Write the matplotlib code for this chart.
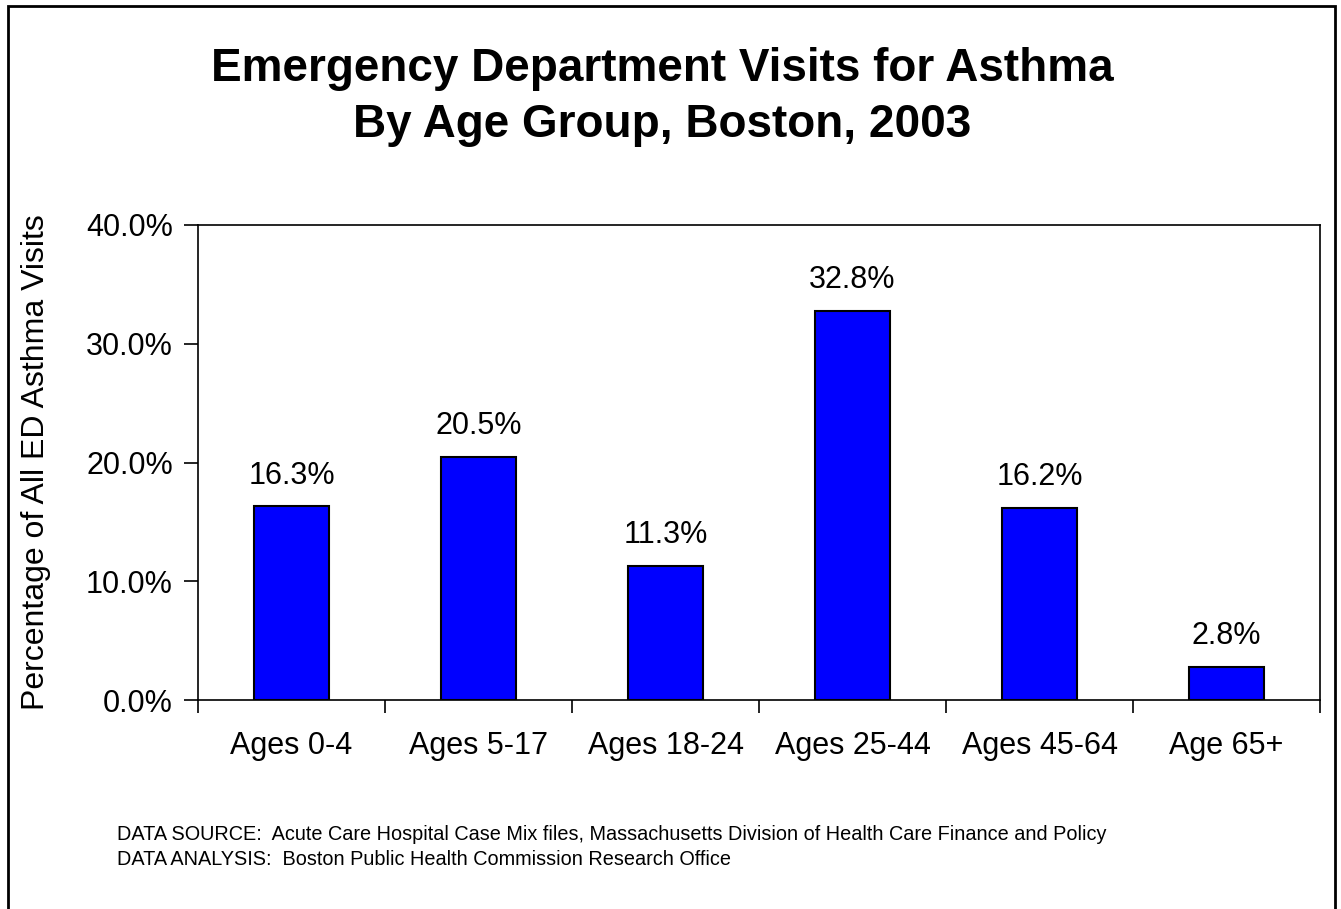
import matplotlib
matplotlib.use('Agg')
import matplotlib.pyplot as plt
from matplotlib.patches import Rectangle
from matplotlib.ticker import FuncFormatter

plt.rcParams['font.family'] = ['Liberation Sans', 'DejaVu Sans']

groups = ['Ages 0-4', 'Ages 5-17', 'Ages 18-24', 'Ages 25-44', 'Ages 45-64', 'Age 65+']
pct = [16.3, 20.5, 11.3, 32.8, 16.2, 2.8]
yticks = [0, 10, 20, 30, 40]

fig = plt.figure(figsize=(13.41, 9.09), dpi=100)
ax = fig.add_axes([198 / 1341, 1 - 700 / 909, 1122 / 1341, 475 / 909])

x = range(len(groups))
ax.bar(x, pct, width=0.4, color='#0000ff', edgecolor='black', linewidth=1.5)
for i, v in zip(x, pct):
    ax.text(i, v + 1.3, '%.1f%%' % v, ha='center', va='bottom', fontsize=22)

ax.set_xlim(-0.5, len(groups) - 0.5)
ax.set_ylim(0, 40)
ax.set_yticks(yticks)
ax.yaxis.set_major_formatter(FuncFormatter(lambda v, p: '%.1f%%' % v))
ax.set_xticks([i - 0.5 for i in range(len(groups) + 1)])
ax.set_xticklabels([])
ax.set_xticks(list(x), minor=True)
ax.set_xticklabels(groups, minor=True)
ax.tick_params(axis='x', which='minor', length=0, pad=22, labelsize=22)
ax.tick_params(axis='x', which='major', length=9, width=1.2)
ax.tick_params(axis='y', length=10, width=1.2, labelsize=22, pad=8)
for s in ax.spines.values():
    s.set_linewidth(1.2)
ax.set_ylabel('Percentage of All ED Asthma Visits', fontsize=23, labelpad=25)

fig.text(0.4937, 1 - 81 / 909, 'Emergency Department Visits for Asthma',
         ha='center', va='baseline', fontsize=33, fontweight='bold')
fig.text(0.4937, 1 - 137 / 909, 'By Age Group, Boston, 2003',
         ha='center', va='baseline', fontsize=33, fontweight='bold')
fig.text(117 / 1341, 1 - 840 / 909,
         'DATA SOURCE:  Acute Care Hospital Case Mix files, Massachusetts Division of Health Care Finance and Policy',
         fontsize=14.3, va='baseline')
fig.text(117 / 1341, 1 - 865 / 909,
         'DATA ANALYSIS:  Boston Public Health Commission Research Office',
         fontsize=14.3, va='baseline')

fig.patches.append(Rectangle((8 / 1341, -0.05), 1327 / 1341, 1.05 - 6 / 909,
                             transform=fig.transFigure, fill=False, edgecolor='black', linewidth=2))

fig.savefig('out.png', dpi=100)
